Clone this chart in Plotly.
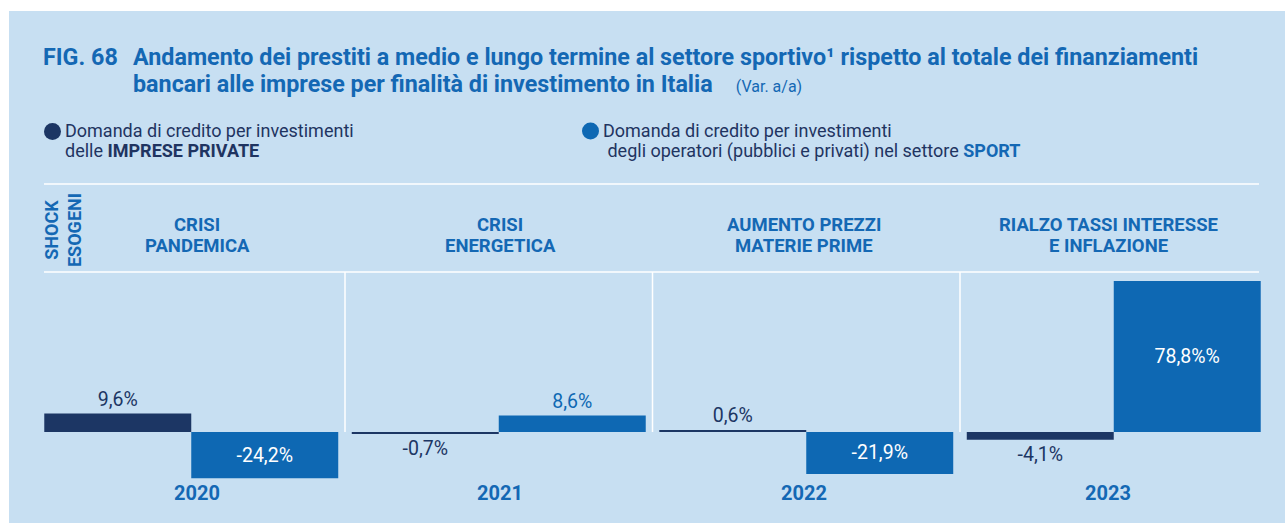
import plotly.graph_objects as go

# --- data -------------------------------------------------------------------
years = ["2020", "2021", "2022", "2023"]
shocks = [
    ["CRISI", "PANDEMICA"],
    ["CRISI", "ENERGETICA"],
    ["AUMENTO PREZZI", "MATERIE PRIME"],
    ["RIALZO TASSI INTERESSE", "E INFLAZIONE"],
]
imprese_private = [9.6, -0.7, 0.6, -4.1]
settore_sport = [-24.2, 8.6, -21.9, 78.8]
imprese_labels = ["9,6%", "-0,7%", "0,6%", "-4,1%"]
sport_labels = ["-24,2%", "8,6%", "-21,9%", "78,8%%"]

# --- styling ------------------------------------------------------------------
W, H = 1285, 523
FONT = "Roboto, 'Open Sans', sans-serif"
BG = "#C7DFF2"
NAVY = "#1C3664"
BLUE = "#0E68B3"
TITLE_BLUE = "#1468B4"
TEXT_NAVY = "#1F3461"
LABEL_SIZE = 19.5


def px(x):
    return x / W


def py(y):
    return 1 - y / H


def text_line(text, x, y, size, color, xanchor="left", **kw):
    # left-anchored annotations carry a few pixels of inner padding
    shift = -3 if xanchor == "left" else 0
    return dict(text=text, x=px(x), y=py(y), xref="paper", yref="paper",
                xanchor=xanchor, yanchor="middle", showarrow=False, xshift=shift,
                font=dict(family=FONT, size=size, color=color), **kw)


# plot area in pixels: zero line at y=432, top border at y=272
Y_MIN, Y_MAX = -30, 83.5
plot_top, plot_bottom = 272, 272 + (Y_MAX - Y_MIN) * (160 / Y_MAX)

bar_common = dict(
    textposition="auto", insidetextanchor="middle",
    constraintext="none", cliponaxis=False, showlegend=False,
)
fig = go.Figure()
fig.add_trace(go.Bar(
    x=years, y=imprese_private, name="Imprese private",
    marker=dict(color=NAVY, line=dict(width=0)),
    text=imprese_labels,
    insidetextfont=dict(color="white", size=LABEL_SIZE, family=FONT),
    outsidetextfont=dict(color=NAVY, size=LABEL_SIZE, family=FONT),
    **bar_common,
))
fig.add_trace(go.Bar(
    x=years, y=settore_sport, name="Settore sport",
    marker=dict(color=BLUE, line=dict(width=0)),
    text=sport_labels,
    insidetextfont=dict(color="white", size=LABEL_SIZE, family=FONT),
    outsidetextfont=dict(color=BLUE, size=LABEL_SIZE, family=FONT),
    **bar_common,
))

shapes = [
    # light panel behind everything
    dict(type="rect", xref="paper", yref="paper", x0=px(9), x1=1, y0=0, y1=py(11),
         fillcolor=BG, line=dict(width=0), layer="below"),
    # horizontal rules framing the shock headers
    dict(type="line", xref="paper", yref="paper", x0=px(44), x1=px(1259),
         y0=py(184), y1=py(184), line=dict(color="white", width=1.5)),
    dict(type="line", xref="paper", yref="paper", x0=px(44), x1=px(1259),
         y0=py(272), y1=py(272), line=dict(color="white", width=1.5)),
    # legend dots
    dict(type="circle", xref="paper", yref="paper", x0=px(44), x1=px(61),
         y0=py(140), y1=py(123), fillcolor=NAVY, line=dict(width=0)),
    dict(type="circle", xref="paper", yref="paper", x0=px(582), x1=px(599),
         y0=py(139.5), y1=py(122.5), fillcolor=BLUE, line=dict(width=0)),
]
# vertical separators between years, from the zero line up to the header rule
for i in range(len(years) - 1):
    shapes.append(dict(type="line", xref="x", yref="y", x0=i + 0.5, x1=i + 0.5,
                       y0=0, y1=Y_MAX, line=dict(color="white", width=1.5)))

annotations = [
    # title
    text_line("<b>FIG. 68</b>", 44, 56.5, 23.3, TITLE_BLUE),
    text_line("<b>Andamento dei prestiti a medio e lungo termine al settore sportivo¹ "
              "rispetto al totale dei finanziamenti</b>", 134, 56.5, 23.3, TITLE_BLUE),
    text_line("<b>bancari alle imprese per finalità di investimento in Italia</b>"
              "    <span style='font-size:16px'>(Var. a/a)</span>",
              134, 84, 23.3, TITLE_BLUE),
    # legend
    text_line("Domanda di credito per investimenti", 66, 130.5, 18, TEXT_NAVY),
    text_line("delle <b>IMPRESE PRIVATE</b>", 66, 150.5, 18, TEXT_NAVY),
    text_line("Domanda di credito per investimenti", 604, 130.5, 18, TEXT_NAVY),
    text_line(" degli operatori (pubblici e privati) nel settore "
              f"<b><span style='color:{TITLE_BLUE}'>SPORT</span></b>",
              604, 150.5, 18, TEXT_NAVY),
    # rotated row title
    text_line("<b>SHOCK<br>ESOGENI</b>", 63, 230, 18, TITLE_BLUE,
              xanchor="center", align="center", textangle=-90),
]

header_x_px = [197, 500, 804, 1108]
for lines, cx in zip(shocks, header_x_px):
    for k, line in enumerate(lines):
        annotations.append(text_line(f"<b>{line}</b>", cx, 225.5 + 20 * k, 18.5,
                                     TITLE_BLUE, xanchor="center"))
for year, cx in zip(years, header_x_px):
    annotations.append(text_line(f"<b>{year}</b>", cx, 493, 20, TITLE_BLUE,
                                 xanchor="center"))

fig.update_layout(
    width=W, height=H,
    margin=dict(l=0, r=0, t=0, b=0),
    paper_bgcolor="white",
    plot_bgcolor="rgba(0,0,0,0)",
    barmode="group", bargap=0.044, bargroupgap=0,
    font=dict(family=FONT),
    xaxis=dict(domain=[px(37.5), px(1267.5)], showticklabels=False, showgrid=False,
               zeroline=False, showline=False, ticks="", fixedrange=True),
    yaxis=dict(domain=[py(plot_bottom), py(plot_top)], range=[Y_MIN, Y_MAX],
               showticklabels=False, showgrid=False, zeroline=False,
               showline=False, ticks="", fixedrange=True),
    shapes=shapes,
    annotations=annotations,
    showlegend=False,
)

fig.write_html("out.html", config=dict(displayModeBar=False))
